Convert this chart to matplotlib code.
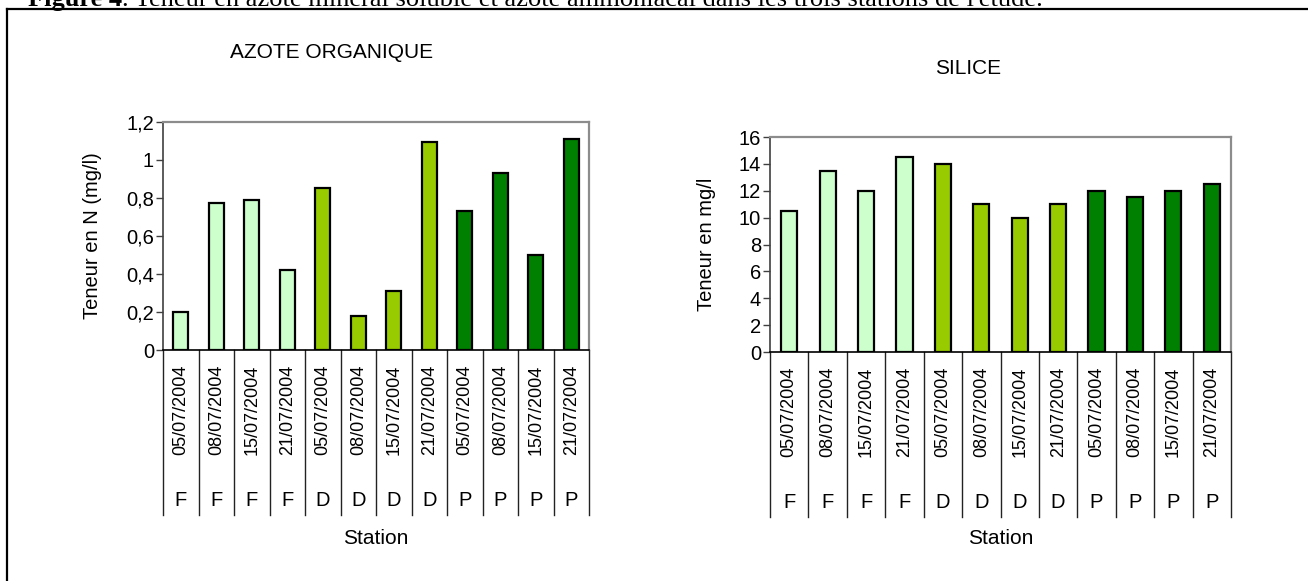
import matplotlib
matplotlib.use("Agg")
import matplotlib.pyplot as plt
from matplotlib.transforms import blended_transform_factory

W, H = 1308, 581

dates = ['05/07/2004', '08/07/2004', '15/07/2004', '21/07/2004',
         '05/07/2004', '08/07/2004', '15/07/2004', '21/07/2004',
         '05/07/2004', '08/07/2004', '15/07/2004', '21/07/2004']
stations = ['F', 'F', 'F', 'F', 'D', 'D', 'D', 'D', 'P', 'P', 'P', 'P']
azote = [0.20, 0.77, 0.79, 0.42, 0.85, 0.18, 0.31, 1.09, 0.73, 0.93, 0.50, 1.11]
silice = [10.5, 13.5, 12, 14.5, 14, 11, 10, 11, 12, 11.5, 12, 12.5]
station_colors = {'F': '#CCFFCC', 'D': '#99CC00', 'P': '#008000'}

azote_ticks = [0, 0.2, 0.4, 0.6, 0.8, 1.0, 1.2]
azote_ticklabels = ['0', '0,2', '0,4', '0,6', '0,8', '1', '1,2']
silice_ticks = [0, 2, 4, 6, 8, 10, 12, 14, 16]
silice_ticklabels = ['0', '2', '4', '6', '8', '10', '12', '14', '16']

plt.rcParams['font.family'] = ['Liberation Sans', 'DejaVu Sans']

fig = plt.figure(figsize=(W / 100, H / 100), dpi=100)


def fy(y):
    return 1 - y / H


def fx(x):
    return x / W


# outer frame (left and top)
fig.add_artist(plt.Line2D([fx(7), fx(7)], [fy(9), fy(H + 5)], color='black', lw=1.6,
                          transform=fig.transFigure))
fig.add_artist(plt.Line2D([fx(7), fx(W + 5)], [fy(9), fy(9)], color='black', lw=1.6,
                          transform=fig.transFigure))

# caption (partly cut at top, as in the source page)
cap_y = fy(6)
t1 = fig.text(fx(28), cap_y, 'Figure 4', fontsize=19, fontweight='bold',
              family='Liberation Serif', va='baseline', ha='left')
fig.canvas.draw()
bb = t1.get_window_extent(renderer=fig.canvas.get_renderer())
fig.text(bb.x1 / W, cap_y,
         ". Teneur en azote minéral soluble et azote ammoniacal dans les trois stations de l'étude.",
         fontsize=19, family='Liberation Serif', va='baseline', ha='left')


def make_chart(rect, values, ticks, ticklabels, ylim, title, title_xy, ylabel, ylabel_x,
               sep_bottom, date_top, letter_y, station_y):
    x0, y0, x1, y1 = rect
    ax = fig.add_axes([fx(x0), fy(y1), fx(x1 - x0), (y1 - y0) / H])
    pos = list(range(len(values)))
    ax.bar(pos, values, width=0.42, color=[station_colors[s] for s in stations],
           edgecolor='black', linewidth=1.6, zorder=3)
    ax.set_xlim(-0.5, len(values) - 0.5)
    ax.set_ylim(*ylim)
    ax.set_yticks(ticks)
    ax.set_yticklabels(ticklabels)
    ax.set_xticks([])
    ax.tick_params(axis='y', direction='out', length=5, width=1, color='#404040',
                   labelsize=14.5, pad=1.5)
    ax.spines['top'].set_color('#8c8c8c')
    ax.spines['right'].set_color('#8c8c8c')
    ax.spines['top'].set_linewidth(1.6)
    ax.spines['right'].set_linewidth(1.6)
    ax.spines['left'].set_color('#404040')
    ax.spines['left'].set_linewidth(1.2)
    ax.spines['bottom'].set_color('black')
    ax.spines['bottom'].set_linewidth(1.2)

    tr = blended_transform_factory(ax.transData, fig.transFigure)
    for i in range(len(values) + 1):
        ax.plot([i - 0.5, i - 0.5], [fy(y1), fy(sep_bottom)], color='#222222', lw=1.0,
                transform=tr, clip_on=False)
    for i, (d, s) in enumerate(zip(dates, stations)):
        ax.text(i, fy(date_top), d, rotation=90, ha='center', va='top', fontsize=13,
                transform=tr)
        ax.text(i, fy(letter_y), s, ha='center', va='center', fontsize=14.5, transform=tr)
    fig.text(fx((x0 + x1) / 2), fy(station_y), 'Station', ha='center', va='center',
             fontsize=15)
    fig.text(fx(title_xy[0]), fy(title_xy[1]), title, ha='center', va='center',
             fontsize=15)
    fig.text(fx(ylabel_x), fy((y0 + y1) / 2), ylabel, rotation=90, ha='center',
             va='center', fontsize=14.5)
    return ax


make_chart((163, 121.5, 589, 350), azote, azote_ticks, azote_ticklabels, (0, 1.2),
           'AZOTE ORGANIQUE', (332, 52), 'Teneur en N (mg/l)', 93,
           515, 365, 500, 538)
make_chart((770, 137, 1231, 352), silice, silice_ticks, silice_ticklabels, (0, 16),
           'SILICE', (968, 68), 'Teneur en mg/l', 707,
           517, 367, 503, 539)

fig.savefig('out.png', dpi=100)
